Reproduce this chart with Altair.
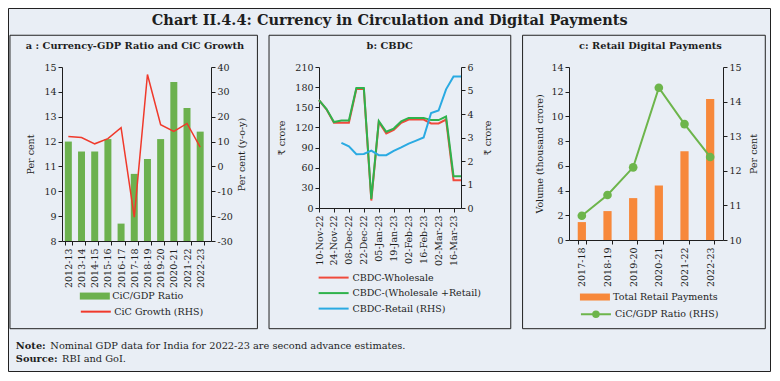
import altair as alt
import pandas as pd

FONT = "DejaVu Serif"
BG = "#e9eef5"
INK = "#1e1e1e"
GREEN_BAR = "#6cb14e"
RED_A = "#f0392b"
RED_B = "#f04a3c"
GREEN_B = "#2fb24c"
BLUE_B = "#2aaae2"
ORANGE_C = "#f7883a"
GREEN_C = "#6db54b"

# ---------------- data ----------------
years_a = ["2012-13", "2013-14", "2014-15", "2015-16", "2016-17", "2017-18",
           "2018-19", "2019-20", "2020-21", "2021-22", "2022-23"]
cic_gdp_ratio = [12.0, 11.6, 11.6, 12.1, 8.7, 10.7, 11.3, 12.1, 14.4, 13.35, 12.4]
cic_growth = [12.0, 11.6, 9.1, 11.2, 15.6, -20.4, 37.0, 16.8, 14.1, 17.3, 7.8]

cbdc_dates = ["2022-11-10", "2022-11-17", "2022-11-24", "2022-12-01", "2022-12-08",
              "2022-12-15", "2022-12-22", "2022-12-29", "2023-01-05", "2023-01-12",
              "2023-01-19", "2023-01-26", "2023-02-02", "2023-02-09", "2023-02-16",
              "2023-02-23", "2023-03-02", "2023-03-09", "2023-03-16", "2023-03-23"]
cbdc_wholesale = [160.8, 147.0, 127.0, 127.0, 127.0, 177.2, 177.2, 11.1, 128.0, 111.0,
                  116.4, 127.0, 131.8, 131.8, 131.8, 126.0, 126.0, 131.8, 41.5, 41.5]
cbdc_total = [160.8, 147.3, 128.0, 130.4, 130.4, 178.7, 178.7, 13.5, 129.4, 113.5,
              118.3, 128.9, 134.2, 134.2, 134.2, 130.9, 130.9, 136.2, 47.3, 47.3]
cbdc_retail_dates = ["2022-12-01", "2022-12-08", "2022-12-15", "2022-12-22", "2022-12-29",
                     "2023-01-05", "2023-01-12", "2023-01-19", "2023-01-26", "2023-02-02",
                     "2023-02-09", "2023-02-16", "2023-02-23", "2023-03-02", "2023-03-09",
                     "2023-03-16", "2023-03-23"]
cbdc_retail = [2.77, 2.62, 2.29, 2.30, 2.44, 2.25, 2.25, 2.43, 2.58, 2.74,
               2.87, 3.0, 4.04, 4.15, 5.05, 5.6, 5.6]
cbdc_tick_dates = ["2022-11-10", "2022-11-24", "2022-12-08", "2022-12-22", "2023-01-05",
                   "2023-01-19", "2023-02-02", "2023-02-16", "2023-03-02", "2023-03-16"]

years_c = ["2017-18", "2018-19", "2019-20", "2020-21", "2021-22", "2022-23"]
retail_payments = [1.45, 2.34, 3.39, 4.41, 7.19, 11.41]
cic_gdp_c = [10.7, 11.3, 12.1, 14.4, 13.35, 12.4]

series_a = ["CiC/GDP Ratio", "CiC Growth (RHS)"]
series_b = ["CBDC-Wholesale", "CBDC-(Wholesale +Retail)", "CBDC-Retail (RHS)"]
series_c = ["Total Retail Payments", "CiC/GDP Ratio (RHS)"]

# ---------------- layout ----------------
W_ALL, H_ALL = 763, 364
WA, HA = 149, 174
WB, HB = 142, 141
WC, HC = 154, 173
SP = 108
OA = (54, 59)
OB = (OA[0] + WA + SP, 59)
OC = (OB[0] + WB + SP, 59)


def to_chart(x, y):
    return ((x - 2) * W_ALL / 775.5, (y - 3) * H_ALL / 374)


def loc(o, x, y):
    cx, cy = to_chart(x, y)
    return cx - o[0], cy - o[1]


ONE = alt.Data(values=[{"k": 1}])


def txt(s, o, x, y, size=9.0, weight="normal", align="left"):
    lx, ly = loc(o, x, y)
    return alt.Chart(ONE).mark_text(
        text=s, font=FONT, fontSize=size, fontWeight=weight, align=align,
        baseline="middle", color=INK
    ).encode(x=alt.value(lx), y=alt.value(ly))


def box_local(x1, y1, x2, y2, width=1.0):
    return alt.Chart(ONE).mark_rect(
        fillOpacity=0, stroke="#222222", strokeWidth=width
    ).encode(x=alt.value(x1), x2=alt.value(x2), y=alt.value(y1), y2=alt.value(y2))


def box(o, x1, y1, x2, y2):
    a = loc(o, x1, y1)
    b = loc(o, x2, y2)
    return box_local(a[0], a[1], b[0], b[1])


RECT_PATH = "M-3,-0.7H3V0.7H-3Z"
LINE_PATH = "M-3,0H3"
DOT_PATH = "M-3,0H3M-0.55,0A0.55,0.55 0 1,0 0.55,0A0.55,0.55 0 1,0 -0.55,0Z"


def leg(o, sx, sy, lx, sym, stroke_w=0.0, rowpad=2, **kw):
    # sx: symbol left edge (ref px), sy: first row centre (ref px), lx: label start (ref px)
    X, Y = loc(o, sx, sy)
    L, _ = loc(o, lx, sy)
    legend_x = X + 10
    return alt.Legend(
        orient="none", legendX=legend_x, legendY=Y - 6, title=None,
        symbolType=sym, symbolSize=100, symbolStrokeWidth=stroke_w,
        labelOffset=L - (legend_x + 10), padding=0, rowPadding=rowpad,
        labelFont=FONT, labelFontSize=9.5, labelColor=INK, **kw
    )


# ---------------- panel a ----------------
df_a = pd.DataFrame({"year": years_a, "ratio": cic_gdp_ratio, "growth": cic_growth})
df_a["s1"] = series_a[0]
df_a["s2"] = series_a[1]

x_a = alt.X("year:N", sort=years_a, title=None,
            scale=alt.Scale(paddingInner=0.47, paddingOuter=0.385, align=0.28),
            axis=alt.Axis(labelAngle=-90, tickBand="extent", labelPadding=3))

bars_a = alt.Chart(df_a).mark_bar().encode(
    x=x_a,
    y=alt.Y("ratio:Q", scale=alt.Scale(domain=[8, 15], nice=False, zero=False),
            axis=alt.Axis(values=list(range(8, 16)), title="Per cent", titlePadding=8)),
    y2=alt.Y2Datum(8),
    color=alt.Color("s1:N", scale=alt.Scale(domain=[series_a[0]], range=[GREEN_BAR]),
                    legend=leg(OA, 75, 300, 108, RECT_PATH)),
)
line_a = alt.Chart(df_a).mark_line(strokeWidth=1.5).encode(
    x=x_a,
    y=alt.Y("growth:Q", scale=alt.Scale(domain=[-30, 40], nice=False),
            axis=alt.Axis(orient="right", values=list(range(-30, 41, 10)),
                          labelExpr="'' + datum.value",
                          title="Per cent (y-o-y)", titleAngle=270, titleBaseline="top",
                          titlePadding=4)),
    stroke=alt.Stroke("s2:N", scale=alt.Scale(domain=[series_a[1]], range=[RED_A]),
                      legend=leg(OA, 75, 315, 108, LINE_PATH, stroke_w=2)),
)

deco_a = [
    box_local(-OA[0] + 0.5, -OA[1] + 0.5, W_ALL - OA[0] - 0.5, H_ALL - OA[1] - 0.5),
    box(OA, 4, 31, 255.5, 332.5),
    box(OA, 267.3, 31, 513, 332.5),
    box(OA, 525, 31, 771.7, 332.5),
    txt("Chart II.4.4: Currency in Circulation and Digital Payments", OA, 390, 16,
        size=14.5, weight="bold", align="center"),
    txt("a : Currency-GDP Ratio and CiC Growth", OA, 131, 42, size=9.8, weight="bold",
        align="center"),
    txt("b: CBDC", OA, 390, 42, size=9.8, weight="bold", align="center"),
    txt("c: Retail Digital Payments", OA, 655, 42, size=9.8, weight="bold", align="center"),
    txt("Note:", OA, 10, 350, size=9.8, weight="bold"),
    txt("Nominal GDP data for India for 2022-23 are second advance estimates.", OA, 45, 350,
        size=9.8),
    txt("Source:", OA, 10, 364, size=9.8, weight="bold"),
    txt("RBI and GoI.", OA, 57, 364, size=9.8),
]

panel_a = alt.layer(bars_a, line_a, *deco_a).resolve_scale(y="independent").properties(
    width=WA, height=HA)

# ---------------- panel b ----------------
def ms(d):
    return int(pd.Timestamp(d).value // 10**6)


df_bl = pd.DataFrame({
    "date": cbdc_dates + cbdc_dates,
    "value": cbdc_wholesale + cbdc_total,
    "series": [series_b[0]] * len(cbdc_dates) + [series_b[1]] * len(cbdc_dates),
})
df_br = pd.DataFrame({"date": cbdc_retail_dates, "value": cbdc_retail})
df_br["series"] = series_b[2]

x_b = alt.X("date:T", title=None,
            scale=alt.Scale(type="utc", domain=[ms(cbdc_dates[0]), ms(cbdc_dates[-1])],
                            nice=False),
            axis=alt.Axis(values=[ms(d) for d in cbdc_tick_dates], format="%d-%b-%y",
                          labelAngle=-90, labelFlush=False, labelOverlap=False,
                          labelPadding=3))
stroke_b = alt.Scale(domain=series_b, range=[RED_B, GREEN_B, BLUE_B])
legend_b = leg(OB, 316.7, 280, 350, LINE_PATH, stroke_w=2, rowpad=4.5)

lines_bl = alt.Chart(df_bl).mark_line(strokeWidth=2).encode(
    x=x_b,
    y=alt.Y("value:Q", scale=alt.Scale(domain=[0, 210], nice=False),
            axis=alt.Axis(values=list(range(0, 211, 30)), title="₹ crore", titlePadding=8)),
    stroke=alt.Stroke("series:N", scale=stroke_b, legend=legend_b),
)
lines_br = alt.Chart(df_br).mark_line(strokeWidth=2).encode(
    x=x_b,
    y=alt.Y("value:Q", scale=alt.Scale(domain=[0, 6], nice=False),
            axis=alt.Axis(orient="right", values=list(range(0, 7)), title="₹ crore",
                          titleAngle=270, titleBaseline="top", titlePadding=9)),
    stroke=alt.Stroke("series:N", scale=stroke_b, legend=legend_b),
)
panel_b = alt.layer(lines_bl, lines_br).resolve_scale(y="independent").properties(
    width=WB, height=HB)

# ---------------- panel c ----------------
df_c = pd.DataFrame({"year": years_c, "pay": retail_payments, "ratio": cic_gdp_c})
df_c["s1"] = series_c[0]
df_c["s2"] = series_c[1]

x_c = alt.X("year:N", sort=years_c, title=None,
            scale=alt.Scale(paddingInner=0.68, paddingOuter=0.34),
            axis=alt.Axis(labelAngle=-90, tickBand="extent", labelPadding=3))

bars_c = alt.Chart(df_c).mark_bar().encode(
    x=x_c,
    y=alt.Y("pay:Q", scale=alt.Scale(domain=[0, 14], nice=False),
            axis=alt.Axis(values=list(range(0, 15, 2)), title="Volume (thousand crore)",
                          titlePadding=6)),
    fill=alt.Fill("s1:N", scale=alt.Scale(domain=[series_c[0]], range=[ORANGE_C]),
                  legend=leg(OC, 583.3, 301, 617, RECT_PATH)),
)
y_c_right = alt.Y("ratio:Q", scale=alt.Scale(domain=[10, 15], nice=False, zero=False),
                  axis=alt.Axis(orient="right", values=list(range(10, 16)), title="Per cent",
                                titleAngle=270, titleBaseline="top", titlePadding=7))
line_c = alt.Chart(df_c).mark_line(color=GREEN_C, strokeWidth=2).encode(x=x_c, y=y_c_right)
pts_c = alt.Chart(df_c).mark_circle(size=75, opacity=1).encode(
    x=x_c, y=y_c_right,
    color=alt.Color("s2:N", scale=alt.Scale(domain=[series_c[1]], range=[GREEN_C]),
                    legend=leg(OC, 583.3, 317.7, 617, DOT_PATH, stroke_w=2,
                               symbolStrokeColor=GREEN_C)),
)
panel_c = alt.layer(bars_c, alt.layer(line_c, pts_c)).resolve_scale(y="independent").properties(
    width=WC, height=HC)

# ---------------- assemble ----------------
chart = alt.hconcat(panel_a, panel_b, panel_c).properties(
    spacing=SP, bounds="flush", padding=0
).resolve_scale(
    color="independent", fill="independent", stroke="independent"
).resolve_legend(
    color="independent", fill="independent", stroke="independent"
).configure(
    background=BG
).configure_view(
    strokeOpacity=0
).configure_axis(
    labelFont=FONT, labelFontSize=9.5, labelColor=INK, titleFont=FONT, titleFontSize=9.5,
    titleFontWeight="normal", titleColor=INK, domainColor=INK, tickColor=INK, tickSize=4,
    grid=False
)

chart.save("out.html", embed_options={"renderer": "svg", "actions": False})
